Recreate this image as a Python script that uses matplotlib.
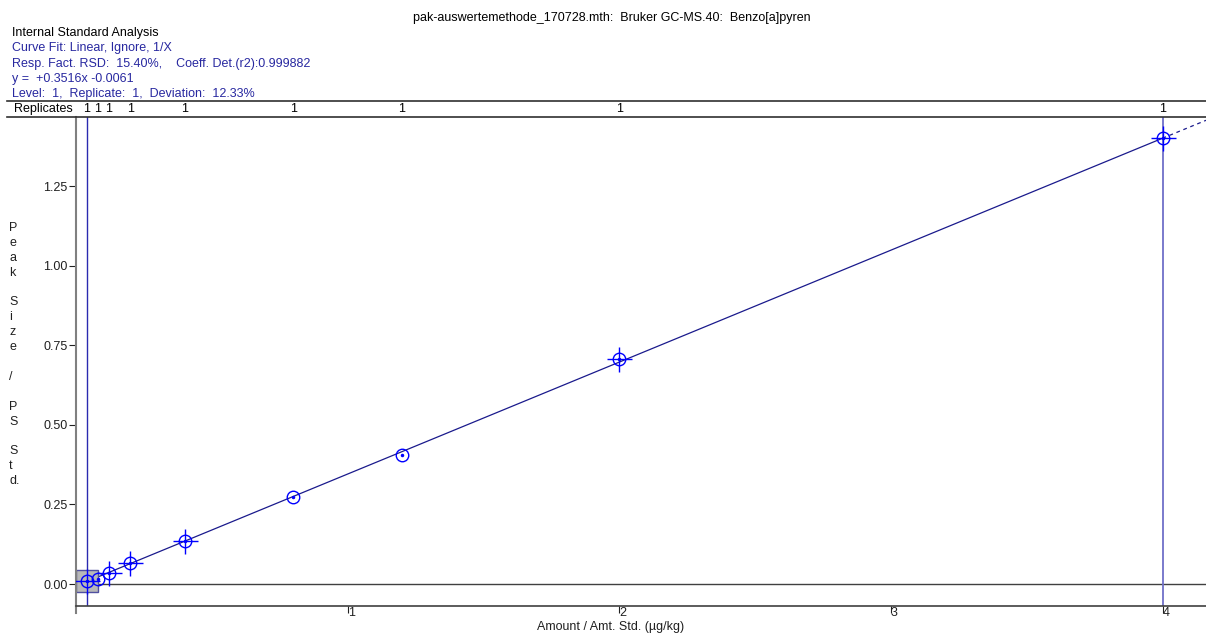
import matplotlib
matplotlib.use("Agg")
import matplotlib.pyplot as plt
from matplotlib.lines import Line2D
from matplotlib.transforms import blended_transform_factory
import numpy as np

plt.rcParams['font.family'] = ['Liberation Sans', 'DejaVu Sans']

# calibration levels (amount / amt. std.) and response ratios
amounts = [0.04, 0.08, 0.12, 0.20, 0.40, 0.80, 1.20, 2.00, 4.00]
ratios = [0.009, 0.016, 0.036, 0.066, 0.136, 0.273, 0.405, 0.707, 1.400]
replicates = [1, 1, 1, 1, 1, 1, 1, 1, 1]
has_cross = [True, False, True, True, True, False, False, True, True]

slope = 0.3516
intercept = -0.0061

title = "pak-auswertemethode_170728.mth:  Bruker GC-MS.40:  Benzo[a]pyren"
header = ["Internal Standard Analysis",
          "Curve Fit: Linear, Ignore, 1/X",
          "Resp. Fact. RSD:  15.40%,    Coeff. Det.(r2):0.999882",
          "y =  +0.3516x -0.0061",
          "Level:  1,  Replicate:  1,  Deviation:  12.33%"]
ylabel_letters = ["P", "e", "a", "k", "", "S", "i", "z", "e", "", "/", "", "P", "S", "", "S", "t", "d."]
yticks = [0.00, 0.25, 0.50, 0.75, 1.00, 1.25]
xticks = [1, 2, 3, 4]

W, H = 1206, 634
fig = plt.figure(figsize=(W / 100, H / 100), dpi=100)
ax = fig.add_axes([76 / W, 1 - 606 / H, (W - 76) / W, (606 - 117) / H])

blue_txt = "#2828a0"
navy = "#1a1a8c"
mark = "#0000ff"

ax.set_xlim(0, 4.16)
ax.set_ylim(-0.069, 1.467)

# zero line
ax.axhline(0, color="#404040", lw=1.0)
# vertical lines at selected level and highest level
ax.axvline(amounts[0], color="#2a2ab0", lw=1.0)
ax.axvline(amounts[-1], color="#7070c8", lw=1.3)

# fit line
xf = np.array([amounts[0], amounts[-1]])
ax.plot(xf, slope * xf + intercept, color=navy, lw=0.9)
xe = np.array([amounts[-1], 4.16])
ax.plot(xe, slope * xe + intercept, color=navy, lw=0.9, ls=(0, (3, 3)))

# selected point highlight
ax.plot([amounts[0]], [ratios[0]], marker="s", ms=16, mfc="#b8b8b8", mec="#5050a0",
        mew=1.0, ls="none", zorder=2)

for x, y, c in zip(amounts, ratios, has_cross):
    ax.plot([x], [y], marker="o", ms=9, mfc="none", mec=mark, mew=1.0, ls="none", zorder=4)
    ax.plot([x], [y], marker=".", ms=3, color=mark, ls="none", zorder=4)
    if c:
        ax.plot([x], [y], marker="+", ms=18, mec=mark, mew=1.0, ls="none", zorder=4)

for s in ["top", "right"]:
    ax.spines[s].set_visible(False)
ax.spines["bottom"].set_color("#404040")
ax.spines["left"].set_color("#808080")
ax.spines["left"].set_linewidth(1.5)
ax.spines["bottom"].set_linewidth(1.2)
# left axis line runs a bit below the frame
ax.plot([0, 0], [0, -0.015], transform=ax.transAxes, color="#808080", lw=1.5, clip_on=False)

ax.set_yticks(yticks)
ax.set_yticklabels([f"{v:.2f}" for v in yticks])
ax.set_xticks(xticks)
ax.set_xticklabels([str(v) for v in xticks])
ax.tick_params(axis="y", direction="out", length=5, width=0.8, pad=1, labelsize=9, colors="#202020")
ax.tick_params(axis="x", direction="out", length=5, width=0.8, pad=-4, labelsize=9, colors="#202020")
for lab in ax.get_xticklabels():
    lab.set_ha("left")
ax.set_xlabel("Amount / Amt. Std. (µg/kg)", fontsize=9, labelpad=-3, color="#202020")
ax.xaxis.set_label_coords((611 - 76) / (W - 76), -0.03)

# replicates band
for yy in (101, 117):
    fig.add_artist(Line2D([7 / W, 1], [1 - yy / H, 1 - yy / H], color="#303030", lw=1.2))
fig.text(14 / W, 1 - 109 / H, "Replicates", fontsize=9, va="center", ha="left")
tr = blended_transform_factory(ax.transData, fig.transFigure)
for x, r in zip(amounts, replicates):
    fig.text(x, 1 - 109 / H, str(r), transform=tr, fontsize=9, va="center", ha="center")

fig.text(612 / W, 1 - 18 / H, title, fontsize=9, ha="center", va="center")
for i, line in enumerate(header):
    fig.text(12 / W, 1 - (33 + i * 15.3) / H, line, fontsize=9, va="center", ha="left",
             color="black" if i == 0 else blue_txt)

for i, ch in enumerate(ylabel_letters):
    if ch:
        fig.text(9 / W, 1 - (228 + i * 14.9) / H, ch, fontsize=9, va="center", ha="left",
                 color="#202020")

fig.savefig("out.png", dpi=100)
